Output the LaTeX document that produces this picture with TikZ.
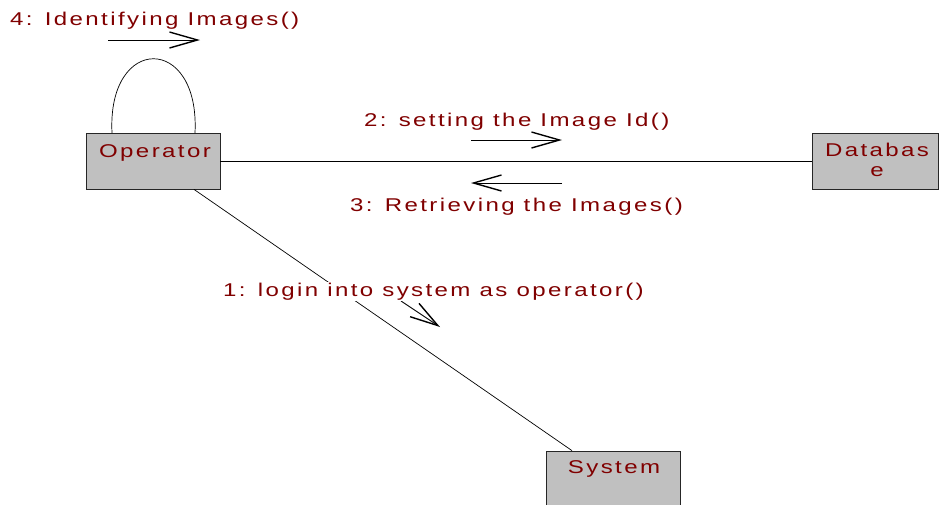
\documentclass[tikz,border=0pt]{standalone}
\usepackage{fontspec}
\usetikzlibrary{arrows.meta,calc}
\newfontfamily\lblfamily[LetterSpace=10]{Liberation Sans}
\definecolor{lblred}{HTML}{800000}
\definecolor{boxgray}{HTML}{C0C0C0}
\newcommand{\lbl}[1]{\scalebox{1.3}[1]{#1}}
\begin{document}
\begin{tikzpicture}[x=1pt,y=-1pt,
  obj/.style={draw=black!85, line width=0.8pt, fill=boxgray, minimum width=134pt, minimum height=56pt, inner sep=0pt},
  txt/.style={text=lblred, inner sep=0pt, font=\fontsize{18.5}{19.5}\selectfont\lblfamily},
  link/.style={line width=0.7pt},
  msg/.style={line width=0.9pt, -{Straight Barb[length=28pt,width=16pt,line width=1.4pt]}}]
\useasboundingbox (0,0) rectangle (940,504);
% objects
\node[obj] (op) at (153,161) {};
\node[obj, minimum width=126pt] (db) at (875,161) {};
\node[obj] (sys) at (613,479) {};
\node[txt, anchor=base] (opt) at (155,157) {\lbl{Operator}};
\node[txt, anchor=north, align=center] (dbt) at (877,143) {\lbl{Databas}\\\lbl{e}};
\node[txt, anchor=base] (syst) at (614,473) {\lbl{System}};
% links
\draw[link] (op) -- (db);
\draw[link] (op) -- (sys);
\coordinate (la) at (112,133);
\coordinate (lb) at (195,133);
\draw[link] (la) .. controls (107,34) and (200,34) .. (lb);
% messages
\coordinate (m4a) at (108,40); \coordinate (m4b) at (200,40);
\draw[msg] (m4a) -- (m4b);
\coordinate (m2a) at (471,140); \coordinate (m2b) at (562,140);
\draw[msg] (m2a) -- (m2b);
\coordinate (m3a) at (562,183); \coordinate (m3b) at (471,183);
\draw[msg] (m3a) -- (m3b);
\coordinate (m1a) at (401,301); \coordinate (m1b) at (440,327);
\draw[msg] (m1a) -- (m1b);
% labels
\node[txt, anchor=base west] (l4) at (10,25) {\lbl{4: Identifying Images()}};
\node[txt, anchor=base west] (l2) at (364,126) {\lbl{2: setting the Image Id()}};
\node[txt, anchor=base west] (l3) at (350,211) {\lbl{3: Retrieving the Images()}};
\node[txt, anchor=base west, fill=white, inner sep=1pt] (l1) at (222,296) {\lbl{1: login into system as operator()}};
\end{tikzpicture}
\end{document}
